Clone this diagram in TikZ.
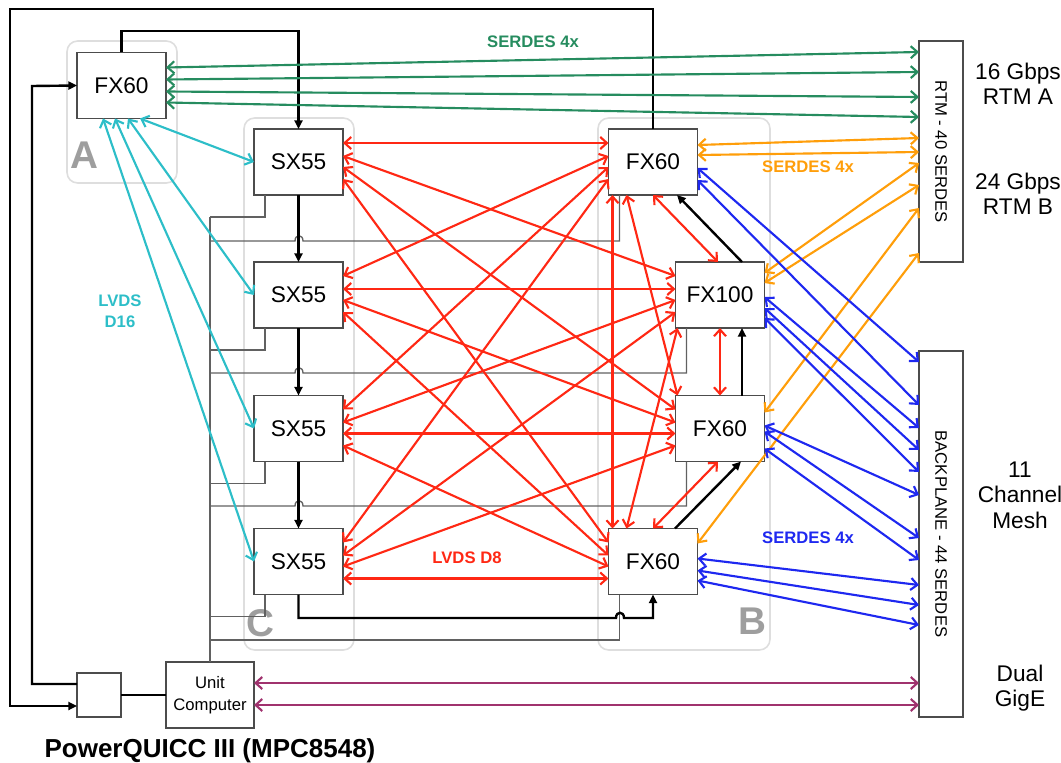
\documentclass[tikz,border=0pt]{standalone}
\usepackage{fontspec}
\setmainfont{Liberation Sans}
\usetikzlibrary{arrows.meta,calc}

\definecolor{rtmgreen}{RGB}{38,140,95}
\definecolor{lvdscyan}{RGB}{45,190,200}
\definecolor{lvdsred}{RGB}{255,40,20}
\definecolor{rtmorange}{RGB}{255,158,10}
\definecolor{meshblue}{RGB}{30,40,240}
\definecolor{gigepurple}{RGB}{160,50,110}

\begin{document}
\begin{tikzpicture}[x=0.75pt, y=-0.75pt,
  >={Straight Barb[length=5pt,width=9pt]},
  chip/.style={draw=black!70, line width=1pt, fill=white, inner sep=0pt, outer sep=0pt,
    minimum width=66.75pt, minimum height=49.5pt, font=\fontsize{17}{20}\selectfont},
  rail/.style={chip, minimum width=33pt},
  grp/.style={draw=black!13, line width=1.2pt, rounded corners=8pt},
  grpletter/.style={text=black!38, font=\fontsize{29}{30}\selectfont\bfseries},
  ctrl/.style={draw=black!62, line width=1pt},
  jtag/.style={line width=1.8pt, -{Triangle[length=6.5pt,width=6pt]}},
  link/.style={line width=1.6pt, <->},
  tag/.style={font=\fontsize{12.5}{15.5}\selectfont\bfseries, align=center},
  side/.style={font=\fontsize{17}{19}\selectfont, align=center}
]
  % 固定画布大小
  \useasboundingbox (0,0) rectangle (1061,763);

  % 1. 分组底框 A, C, B
  \draw[grp] (67,41) rectangle (177,183);
  \draw[grp] (244,118) rectangle (354,650);
  \draw[grp] (598,118) rectangle (770,650);
  \node[grpletter] (ltrA) at (84,155) {A};
  \node[grpletter] (ltrC) at (260,623) {C};
  \node[grpletter] (ltrB) at (752,621) {B};

  % 2. 芯片方框
  \node[chip] (fxa) at (121.5,85.5) {FX60};
  \node[chip] (sx1) at (298.5,162) {SX55};
  \node[chip] (sx2) at (298.5,295) {SX55};
  \node[chip] (sx3) at (298.5,428.5) {SX55};
  \node[chip] (sx4) at (298.5,561.5) {SX55};
  \node[chip] (fxt) at (653,162) {FX60};
  \node[chip] (fxh) at (720,295) {FX100};
  \node[chip] (fxm) at (720,428.5) {FX60};
  \node[chip] (fxb) at (653,561.5) {FX60};
  \node[chip, minimum width=66pt, font=\fontsize{12.5}{16.5}\selectfont, align=center]
    (uc) at (210,695) {Unit\\Computer};
  \node[chip, minimum width=33pt, minimum height=33pt] (sb) at (99,695) {};

  % 右侧两条长框，文字竖排
  \node[rail, minimum height=165.75pt] (rtm) at (941,151.5) {};
  \node[rail, minimum height=274.5pt] (bkp) at (941,534) {};
  \node[rotate=-90, font=\fontsize{12.5}{15}\selectfont] (rtmtxt) at (rtm.center) {RTM - 40 SERDES};
  \node[rotate=-90, font=\fontsize{12.5}{15}\selectfont] (bkptxt) at (bkp.center) {BACKPLANE - 44 SERDES};

  % 3. 灰色控制总线
  \draw[ctrl] ($(sx1.south west)+(-44,22)$) -- (uc.north);
  \foreach \i in {1,2,3,4}
    \draw[ctrl] ($(sx\i.south west)+(11,0)$) |- ($(sx\i.south west)+(-44,22)$);
  \foreach \c/\y in {fxt/241, fxh/373, fxm/506}
    \draw[ctrl] ($(\c.south west)+(11,0)$) |- (303,\y)
      .. controls (303,\y-7) and (295,\y-7) .. (295,\y) -- (210,\y);
  \draw[ctrl] ($(fxb.south west)+(11,0)$) |- (210,640);

  % 4. 黑色链路
  \draw[jtag] (fxt.north) |- (10,9) -- (10,706) -- ($(sb.west)+(0,11)$);
  \draw[jtag] ($(sb.west)+(0,-11)$) -| (32,86) -- (fxa.west);
  \draw[jtag] (fxa.north) |- (298.5,31) -- (sx1.north);
  \foreach \i/\j in {1/2,2/3,3/4}
    \draw[jtag] (sx\i.south) -- (sx\j.north);
  \draw[jtag] (sx4.south) |- (616,618) .. controls (616,611) and (624,611) .. (624,618) -| (fxb.south);
  \draw[jtag] ($(fxb.north)+(22,0)$) -- ($(fxm.south)+(21,0)$);
  \draw[jtag] ($(fxm.north)+(22,0)$) -- ($(fxh.south)+(22,0)$);
  \draw[jtag] ($(fxh.north)+(22,0)$) -- ($(fxt.south)+(24,0)$);
  \draw[line width=1.8pt] (sb.east) -- (uc.west);

  % 5. LVDS D16 (青色)
  \foreach \i/\dx in {1/63,2/51,3/38,4/26}
    \draw[link, lvdscyan] ($(fxa.south west)+(\dx,0)$) -- (sx\i.west);

  % 6. LVDS D8 (红色)：每个 SX55 连到 B 组四片
  \foreach \i/\p in {1/14,2/27,3/38,4/50}
    \foreach \c/\q in {fxt/14,fxh/27,fxm/38,fxb/50}
      \draw[link, lvdsred] ($(sx\i.north east)+(0,\q)$) -- ($(\c.north west)+(0,\p)$);
  \draw[link, lvdsred] (fxt.south) -- ($(fxh.north)+(-2,0)$);
  \draw[link, lvdsred] (fxh.south) -- (fxm.north);
  \draw[link, lvdsred] ($(fxm.south)+(-2,0)$) -- (fxb.north);
  \draw[link, lvdsred] ($(fxt.south west)+(4,0)$) -- ($(fxb.north west)+(4,0)$);
  \draw[link, lvdsred] ($(fxt.south west)+(18,0)$) -- ($(fxm.north west)+(2,0)$);
  \draw[link, lvdsred] ($(fxb.north west)+(18,0)$) -- ($(fxh.south west)+(2,0)$);

  % 7. SERDES 到 RTM (绿色、橙色)
  \foreach \p/\q in {15/11,27/31,39/56,50/76}
    \draw[link, rtmgreen] ($(fxa.north east)+(0,\p)$) -- ($(rtm.north west)+(0,\q)$);
  \foreach \c/\p/\q in {fxt/16/97, fxt/26/111, fxh/11/122, fxh/21/144, fxm/17/167, fxb/15/212}
    \draw[link, rtmorange] ($(\c.north east)+(0,\p)$) -- ($(rtm.north west)+(0,\q)$);

  % 8. SERDES 到背板 (蓝色)
  \foreach \c/\p/\q in {fxt/39/11, fxt/51/54, fxh/35/77, fxh/46/99, fxh/56/121,
                        fxm/30/144, fxm/36/187, fxm/53/209, fxb/30/234, fxb/42/254, fxb/52/274}
    \draw[link, meshblue] ($(\c.north east)+(0,\p)$) -- ($(bkp.north west)+(0,\q)$);

  % 9. 双千兆网 (紫色)
  \coordinate (ge1) at ($(uc.north east)+(0,21)$);
  \coordinate (ge2) at ($(uc.north east)+(0,43)$);
  \draw[link, gigepurple] (ge1) -- (ge1 -| bkp.west);
  \draw[link, gigepurple] (ge2) -- (ge2 -| bkp.west);

  % 10. 文字标注
  \node[tag, rtmgreen] (lblA) at (533,42) {SERDES 4x};
  \node[tag, rtmorange] (lblB) at (808,167) {SERDES 4x};
  \node[tag, meshblue] (lblC) at (808,538) {SERDES 4x};
  \node[tag, lvdscyan] (lbl16) at (120,311) {LVDS\\D16};
  \node[tag, lvdsred] (lbl8) at (467,558) {LVDS D8};
  \node[side] (sA) at (1018,84) {16 Gbps\\RTM A};
  \node[side] (sB) at (1018,194) {24 Gbps\\RTM B};
  \node[side] (sC) at (1020,495) {11\\Channel\\Mesh};
  \node[side] (sD) at (1020,688) {Dual\\GigE};
  \node[anchor=base, font=\fontsize{19.5}{22}\selectfont\bfseries] (cpu) at (210,757) {PowerQUICC III (MPC8548)};

\end{tikzpicture}
\end{document}
